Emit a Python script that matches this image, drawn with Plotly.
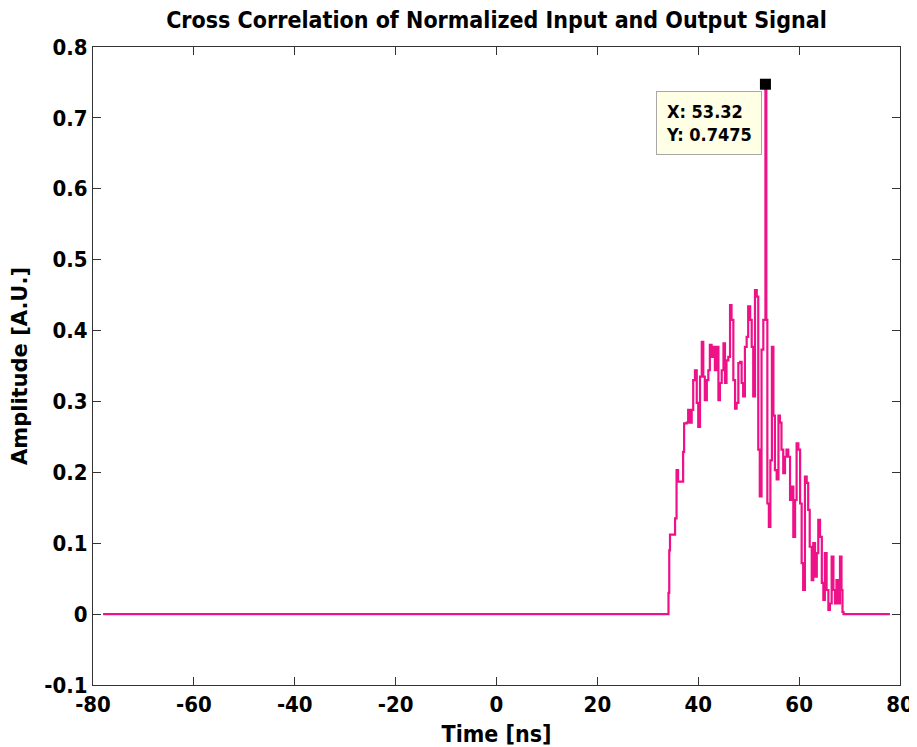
import plotly.graph_objects as go

# Time [ns] and amplitude values
t_start, t_end = -78.0, 78.0
active_t = [34.0, 34.1, 34.25, 34.4, 35.4, 35.7, 36.0, 37.0, 37.2, 37.7, 38.0, 38.4, 38.7,
            39.0, 39.35, 39.7, 40.0, 40.35, 40.7, 41.0, 41.3, 41.7, 42.0, 42.3, 42.65,
            43.0, 43.3, 43.65, 44.0, 44.3, 44.65, 45.0, 45.3, 45.6, 45.96, 46.3, 46.6,
            46.96, 47.3, 47.6, 47.95, 48.3, 48.6, 48.9, 49.25, 49.6, 49.9, 50.3, 50.6,
            50.9, 51.25, 51.6, 51.9, 52.2, 52.55, 52.9, 53.32, 53.5, 53.7, 54.0, 54.3,
            54.6, 54.9, 55.2, 55.55, 55.9, 56.2, 56.5, 56.85, 57.2, 57.5, 57.85, 58.2,
            58.5, 58.85, 59.2, 59.5, 59.85, 60.2, 60.5, 60.8, 61.15, 61.5, 61.8, 62.1,
            62.5, 62.8, 63.15, 63.5, 63.8, 64.15, 64.5, 64.8, 65.1, 65.45, 65.8, 66.1,
            66.45, 66.8, 67.1, 67.4, 67.75, 68.1, 68.4, 68.6, 68.8]
active_amp = [0.0, 0.03, 0.09, 0.112, 0.135, 0.203, 0.187, 0.229, 0.269, 0.27, 0.288, 0.27, 0.288,
              0.33, 0.344, 0.298, 0.264, 0.335, 0.384, 0.335, 0.302, 0.33, 0.344, 0.38, 0.363,
              0.377, 0.344, 0.377, 0.302, 0.326, 0.344, 0.382, 0.326, 0.358, 0.363, 0.436, 0.415,
              0.33, 0.29, 0.298, 0.354, 0.356, 0.326, 0.307, 0.377, 0.391, 0.434, 0.415, 0.377,
              0.307, 0.457, 0.448, 0.232, 0.166, 0.373, 0.415, 0.7475, 0.415, 0.156, 0.123, 0.217,
              0.377, 0.28, 0.203, 0.19, 0.28, 0.27, 0.232, 0.199, 0.222, 0.232, 0.222, 0.161,
              0.18, 0.109, 0.161, 0.241, 0.232, 0.156, 0.072, 0.034, 0.194, 0.185, 0.147, 0.095,
              0.048, 0.1, 0.053, 0.086, 0.133, 0.109, 0.044, 0.02, 0.086, 0.034, 0.006, 0.015,
              0.081, 0.034, 0.015, 0.048, 0.015, 0.081, 0.034, 0.003, 0.0]
time_ns = [t_start] + active_t + [t_end]
amplitude = [0.0] + active_amp + [0.0]

peak_x = 53.32
peak_y = 0.7475

x_ticks = [-80, -60, -40, -20, 0, 20, 40, 60, 80]
x_ticklabels = ["-80", "-60", "-40", "-20", "0", "20", "40", "60", "80"]
y_ticks = [-0.1, 0, 0.1, 0.2, 0.3, 0.4, 0.5, 0.6, 0.7, 0.8]
y_ticklabels = ["-0.1", "0", "0.1", "0.2", "0.3", "0.4", "0.5", "0.6", "0.7", "0.8"]

line_color = "#EE1188"
narrow = "DejaVu Sans Condensed, Liberation Sans Narrow, Liberation Sans, sans-serif"

fig = go.Figure()
fig.add_trace(go.Scatter(x=time_ns, y=amplitude, mode="lines",
                         line=dict(color=line_color, width=2.2, shape="hv"),
                         showlegend=False, hoverinfo="skip"))
fig.add_trace(go.Scatter(x=[peak_x], y=[peak_y], mode="markers",
                         marker=dict(symbol="square", size=11, color="black"),
                         showlegend=False, hoverinfo="skip"))

fig.add_annotation(x=peak_x, y=peak_y, xref="x", yref="y", showarrow=False,
                   xanchor="right", yanchor="top", xshift=-3, yshift=-7,
                   text=f"<b>X: {peak_x:.2f}<br>Y: {peak_y:.4f}</b>", align="left",
                   font=dict(family=narrow, size=18, color="black"),
                   bgcolor="#FFFFE6", bordercolor="#A8A8A8", borderwidth=1, borderpad=9)

axis_common = dict(showline=True, linecolor="#333333", linewidth=1, mirror="ticks",
                   ticks="inside", ticklen=8, tickcolor="#333333", showgrid=False,
                   zeroline=False, automargin=False, ticklabeloverflow="allow",
                   tickfont=dict(family=narrow, size=22, color="black", weight="bold"))

fig.update_xaxes(range=[-80, 80], tickvals=x_ticks, ticktext=x_ticklabels,
                 title=dict(text="<b>Time [ns]</b>", standoff=20,
                            font=dict(family=narrow, size=23, color="black")),
                 **axis_common)
fig.update_yaxes(range=[-0.1, 0.8], tickvals=y_ticks, ticktext=y_ticklabels,
                 title=dict(text="<b>Amplitude [A.U.]</b>", standoff=10,
                            font=dict(family="DejaVu Sans, sans-serif", size=21, color="black")),
                 **axis_common)

# the page body offsets the figure by 8 px, so the figure is sized to end at the window edge
fig.update_layout(
    width=909, height=739,
    margin=dict(l=85, r=17, t=39, b=62, autoexpand=False),
    paper_bgcolor="white", plot_bgcolor="white",
    title=dict(text="<b>Cross Correlation of Normalized Input and Output Signal</b>",
               x=0.5, xref="paper", y=1 - 12 / 739, yref="container", yanchor="middle",
               font=dict(family=narrow, size=23, color="black")),
)

fig.write_html("out.html")
